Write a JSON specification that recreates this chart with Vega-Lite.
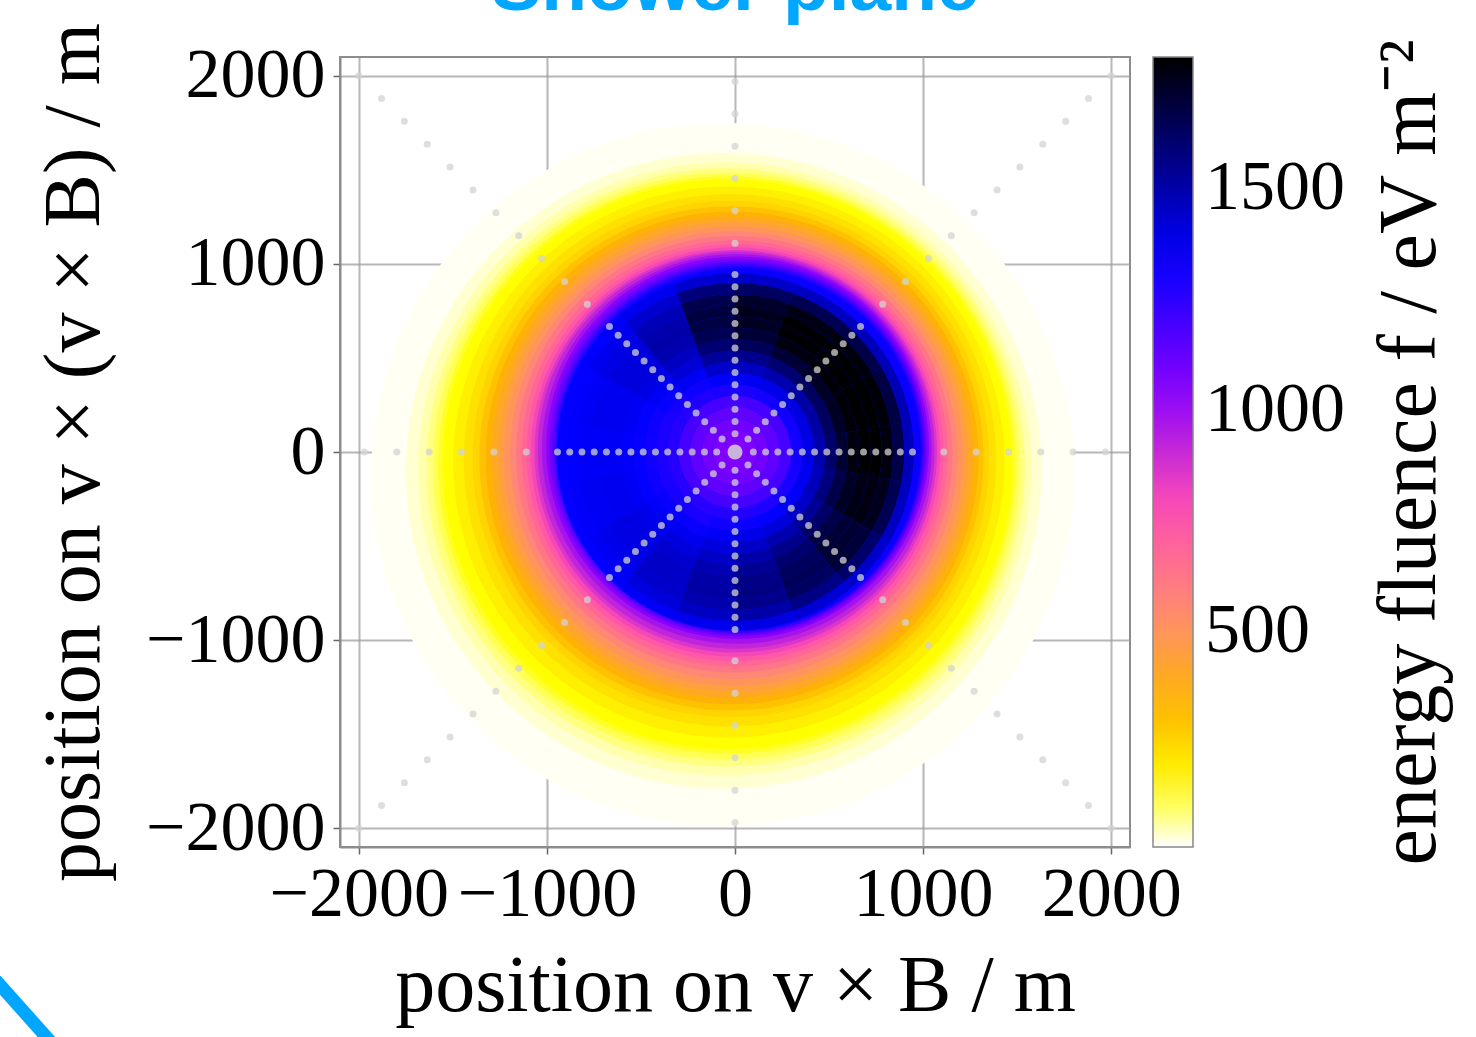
{
  "$schema": "https://vega.github.io/schema/vega-lite/v6.json",
  "width": 790,
  "height": 790,
  "autosize": {"type": "none"},
  "padding": {"left": 340, "top": 57, "right": 346, "bottom": 190},
  "title": {"text": "Shower plane", "font": "Liberation Sans", "fontSize": 75, "fontWeight": "bold", "color": "#00a6ff", "anchor": "middle", "frame": "group", "baseline": "alphabetic", "offset": 12, "dy": 75},
  "config": {
    "font": "Liberation Serif",
    "view": {"stroke": "#8c8c8c", "strokeWidth": 2},
    "axis": {"labelFont": "Liberation Serif", "titleFont": "Liberation Serif", "labelFontSize": 70, "titleFontSize": 80, "labelColor": "#000000", "titleColor": "#000000", "titleFontWeight": "normal", "tickColor": "#666666", "tickSize": 7, "tickWidth": 1.5, "domainColor": "#8c8c8c", "domainWidth": 2, "gridColor": "#999999", "gridOpacity": 0.7, "gridWidth": 2, "labelOverlap": false, "labelFlush": false, "labelBound": false, "labelLimit": 400, "format": "d", "zindex": 1},
    "legend": {"gradientLength": 790, "gradientThickness": 40, "gradientStrokeColor": "#888888", "gradientStrokeWidth": 1.5, "labelFont": "Liberation Serif", "labelFontSize": 70, "labelColor": "#000000", "labelOverlap": false, "labelLimit": 400, "direction": "vertical"}
  },
  "resolve": {"axis": {"x": "independent", "y": "independent"}},
  "layer": [
    {
      "data": {"values": [
        {"x":-65,"y":-120,"R":1870,"f":20},
        {"x":-60,"y":-100,"R":1690,"f":40},
        {"x":-55,"y":-90,"R":1630,"f":60},
        {"x":-50,"y":-82,"R":1590,"f":85},
        {"x":-46,"y":-75,"R":1560,"f":110},
        {"x":-43,"y":-69,"R":1535,"f":135},
        {"x":-40,"y":-64,"R":1515,"f":157},
        {"x":-33,"y":-53,"R":1465,"f":190},
        {"x":-27,"y":-44,"R":1415,"f":220},
        {"x":-22,"y":-37,"R":1373,"f":250},
        {"x":-19,"y":-34,"R":1340,"f":300},
        {"x":-16,"y":-31,"R":1310,"f":350},
        {"x":-13,"y":-28,"R":1280,"f":400},
        {"x":-10,"y":-25,"R":1250,"f":450},
        {"x":-8,"y":-22,"R":1222,"f":500},
        {"x":-6,"y":-17,"R":1190,"f":560},
        {"x":-4,"y":-12,"R":1160,"f":620},
        {"x":-2,"y":-8,"R":1132,"f":680},
        {"x":0,"y":-4,"R":1108,"f":740},
        {"x":2,"y":0,"R":1088,"f":800},
        {"x":4,"y":4,"R":1070,"f":860},
        {"x":6,"y":9,"R":1055,"f":920},
        {"x":10,"y":16,"R":1036,"f":980},
        {"x":14,"y":23,"R":1017,"f":1040},
        {"x":17,"y":23,"R":1003,"f":1100},
        {"x":20,"y":22,"R":992,"f":1160},
        {"x":22,"y":20,"R":982,"f":1220},
        {"x":24,"y":18,"R":972,"f":1280},
        {"x":26,"y":16,"R":962,"f":1330}
      ]},
      "mark": {"type": "point", "shape": "circle", "filled": true, "opacity": 1, "strokeWidth": 0},
      "encoding": {
        "x": {"field": "x", "type": "quantitative", "scale": {"domain": [-2100, 2100], "nice": false, "zero": false}, "axis": {"orient": "bottom", "values": [-2000, -1000, 0, 1000, 2000], "title": "position on v × B / m", "grid": true, "labelPadding": 6, "titlePadding": 18}},
        "y": {"field": "y", "type": "quantitative", "scale": {"domain": [-2100, 2100], "nice": false, "zero": false}, "axis": {"orient": "left", "values": [-2000, -1000, 0, 1000, 2000], "title": "position on v × (v × B) / m", "grid": true, "labelPadding": 8, "titlePadding": 30}},
        "size": {"field": "R", "type": "quantitative", "scale": {"type": "pow", "exponent": 2, "domain": [0, 2100], "range": [0, 624100]}, "legend": null},
        "color": {"field": "f", "type": "quantitative", "scale": {"domain": [14, 157, 240, 340, 450, 540, 780, 1047, 1350, 1795], "range": ["#ffffff", "#ffff00", "#ffd800", "#ffb400", "#ffa040", "#ff8c70", "#ff4db3", "#8700ff", "#0000ff", "#000000"], "interpolate": "rgb", "clamp": true}, "legend": {"type": "gradient", "orient": "none", "legendX": 813, "legendY": 0, "values": [500, 1000, 1500], "format": "d", "title": null, "labelOffset": 12}}
      }
    },
    {
      "data": {"values": [
        {"t0":0,"t1":360,"r0":0,"r1":60,"f":1050},
        {"t0":0,"t1":360,"r0":60,"r1":120,"f":1068},
        {"t0":0,"t1":360,"r0":120,"r1":180,"f":1095},
        {"t0":0,"t1":360,"r0":180,"r1":240,"f":1135},
        {"t0":0,"t1":360,"r0":240,"r1":300,"f":1195},
        {"t0":0,"t1":20,"r0":300,"r1":360,"f":1295},{"t0":0,"t1":20,"r0":360,"r1":420,"f":1370},{"t0":0,"t1":20,"r0":420,"r1":480,"f":1460},{"t0":0,"t1":20,"r0":480,"r1":540,"f":1555},{"t0":0,"t1":20,"r0":540,"r1":600,"f":1640},{"t0":0,"t1":20,"r0":600,"r1":660,"f":1700},{"t0":0,"t1":20,"r0":660,"r1":720,"f":1735},{"t0":0,"t1":20,"r0":720,"r1":780,"f":1745},{"t0":0,"t1":20,"r0":780,"r1":840,"f":1720},{"t0":0,"t1":20,"r0":840,"r1":900,"f":1630},{"t0":0,"t1":20,"r0":900,"r1":950,"f":1445},
        {"t0":20,"t1":40,"r0":300,"r1":360,"f":1305},{"t0":20,"t1":40,"r0":360,"r1":420,"f":1390},{"t0":20,"t1":40,"r0":420,"r1":480,"f":1490},{"t0":20,"t1":40,"r0":480,"r1":540,"f":1600},{"t0":20,"t1":40,"r0":540,"r1":600,"f":1700},{"t0":20,"t1":40,"r0":600,"r1":660,"f":1765},{"t0":20,"t1":40,"r0":660,"r1":720,"f":1790},{"t0":20,"t1":40,"r0":720,"r1":780,"f":1790},{"t0":20,"t1":40,"r0":780,"r1":840,"f":1760},{"t0":20,"t1":40,"r0":840,"r1":900,"f":1650},{"t0":20,"t1":40,"r0":900,"r1":950,"f":1460},
        {"t0":40,"t1":60,"r0":300,"r1":360,"f":1310},{"t0":40,"t1":60,"r0":360,"r1":420,"f":1400},{"t0":40,"t1":60,"r0":420,"r1":480,"f":1510},{"t0":40,"t1":60,"r0":480,"r1":540,"f":1630},{"t0":40,"t1":60,"r0":540,"r1":600,"f":1730},{"t0":40,"t1":60,"r0":600,"r1":660,"f":1785},{"t0":40,"t1":60,"r0":660,"r1":720,"f":1795},{"t0":40,"t1":60,"r0":720,"r1":780,"f":1795},{"t0":40,"t1":60,"r0":780,"r1":840,"f":1775},{"t0":40,"t1":60,"r0":840,"r1":900,"f":1670},{"t0":40,"t1":60,"r0":900,"r1":950,"f":1470},
        {"t0":60,"t1":80,"r0":300,"r1":360,"f":1310},{"t0":60,"t1":80,"r0":360,"r1":420,"f":1400},{"t0":60,"t1":80,"r0":420,"r1":480,"f":1510},{"t0":60,"t1":80,"r0":480,"r1":540,"f":1630},{"t0":60,"t1":80,"r0":540,"r1":600,"f":1730},{"t0":60,"t1":80,"r0":600,"r1":660,"f":1785},{"t0":60,"t1":80,"r0":660,"r1":720,"f":1795},{"t0":60,"t1":80,"r0":720,"r1":780,"f":1795},{"t0":60,"t1":80,"r0":780,"r1":840,"f":1780},{"t0":60,"t1":80,"r0":840,"r1":900,"f":1680},{"t0":60,"t1":80,"r0":900,"r1":950,"f":1480},
        {"t0":80,"t1":100,"r0":300,"r1":360,"f":1305},{"t0":80,"t1":100,"r0":360,"r1":420,"f":1390},{"t0":80,"t1":100,"r0":420,"r1":480,"f":1495},{"t0":80,"t1":100,"r0":480,"r1":540,"f":1610},{"t0":80,"t1":100,"r0":540,"r1":600,"f":1710},{"t0":80,"t1":100,"r0":600,"r1":660,"f":1770},{"t0":80,"t1":100,"r0":660,"r1":720,"f":1790},{"t0":80,"t1":100,"r0":720,"r1":780,"f":1790},{"t0":80,"t1":100,"r0":780,"r1":840,"f":1770},{"t0":80,"t1":100,"r0":840,"r1":900,"f":1670},{"t0":80,"t1":100,"r0":900,"r1":950,"f":1470},
        {"t0":100,"t1":120,"r0":300,"r1":360,"f":1300},{"t0":100,"t1":120,"r0":360,"r1":420,"f":1375},{"t0":100,"t1":120,"r0":420,"r1":480,"f":1470},{"t0":100,"t1":120,"r0":480,"r1":540,"f":1575},{"t0":100,"t1":120,"r0":540,"r1":600,"f":1670},{"t0":100,"t1":120,"r0":600,"r1":660,"f":1730},{"t0":100,"t1":120,"r0":660,"r1":720,"f":1760},{"t0":100,"t1":120,"r0":720,"r1":780,"f":1765},{"t0":100,"t1":120,"r0":780,"r1":840,"f":1745},{"t0":100,"t1":120,"r0":840,"r1":900,"f":1650},{"t0":100,"t1":120,"r0":900,"r1":950,"f":1460},
        {"t0":120,"t1":140,"r0":300,"r1":360,"f":1295},{"t0":120,"t1":140,"r0":360,"r1":420,"f":1360},{"t0":120,"t1":140,"r0":420,"r1":480,"f":1445},{"t0":120,"t1":140,"r0":480,"r1":540,"f":1535},{"t0":120,"t1":140,"r0":540,"r1":600,"f":1615},{"t0":120,"t1":140,"r0":600,"r1":660,"f":1670},{"t0":120,"t1":140,"r0":660,"r1":720,"f":1700},{"t0":120,"t1":140,"r0":720,"r1":780,"f":1710},{"t0":120,"t1":140,"r0":780,"r1":840,"f":1695},{"t0":120,"t1":140,"r0":840,"r1":900,"f":1610},{"t0":120,"t1":140,"r0":900,"r1":950,"f":1440},
        {"t0":140,"t1":160,"r0":300,"r1":360,"f":1285},{"t0":140,"t1":160,"r0":360,"r1":420,"f":1345},{"t0":140,"t1":160,"r0":420,"r1":480,"f":1415},{"t0":140,"t1":160,"r0":480,"r1":540,"f":1490},{"t0":140,"t1":160,"r0":540,"r1":600,"f":1555},{"t0":140,"t1":160,"r0":600,"r1":660,"f":1605},{"t0":140,"t1":160,"r0":660,"r1":720,"f":1635},{"t0":140,"t1":160,"r0":720,"r1":780,"f":1645},{"t0":140,"t1":160,"r0":780,"r1":840,"f":1630},{"t0":140,"t1":160,"r0":840,"r1":900,"f":1565},{"t0":140,"t1":160,"r0":900,"r1":950,"f":1425},
        {"t0":160,"t1":180,"r0":300,"r1":360,"f":1275},{"t0":160,"t1":180,"r0":360,"r1":420,"f":1330},{"t0":160,"t1":180,"r0":420,"r1":480,"f":1390},{"t0":160,"t1":180,"r0":480,"r1":540,"f":1450},{"t0":160,"t1":180,"r0":540,"r1":600,"f":1500},{"t0":160,"t1":180,"r0":600,"r1":660,"f":1540},{"t0":160,"t1":180,"r0":660,"r1":720,"f":1565},{"t0":160,"t1":180,"r0":720,"r1":780,"f":1570},{"t0":160,"t1":180,"r0":780,"r1":840,"f":1555},{"t0":160,"t1":180,"r0":840,"r1":900,"f":1500},{"t0":160,"t1":180,"r0":900,"r1":950,"f":1400},
        {"t0":180,"t1":200,"r0":300,"r1":360,"f":1270},{"t0":180,"t1":200,"r0":360,"r1":420,"f":1315},{"t0":180,"t1":200,"r0":420,"r1":480,"f":1360},{"t0":180,"t1":200,"r0":480,"r1":540,"f":1410},{"t0":180,"t1":200,"r0":540,"r1":600,"f":1450},{"t0":180,"t1":200,"r0":600,"r1":660,"f":1485},{"t0":180,"t1":200,"r0":660,"r1":720,"f":1505},{"t0":180,"t1":200,"r0":720,"r1":780,"f":1510},{"t0":180,"t1":200,"r0":780,"r1":840,"f":1495},{"t0":180,"t1":200,"r0":840,"r1":900,"f":1455},{"t0":180,"t1":200,"r0":900,"r1":950,"f":1380},
        {"t0":200,"t1":220,"r0":300,"r1":360,"f":1260},{"t0":200,"t1":220,"r0":360,"r1":420,"f":1295},{"t0":200,"t1":220,"r0":420,"r1":480,"f":1335},{"t0":200,"t1":220,"r0":480,"r1":540,"f":1375},{"t0":200,"t1":220,"r0":540,"r1":600,"f":1405},{"t0":200,"t1":220,"r0":600,"r1":660,"f":1435},{"t0":200,"t1":220,"r0":660,"r1":720,"f":1450},{"t0":200,"t1":220,"r0":720,"r1":780,"f":1450},{"t0":200,"t1":220,"r0":780,"r1":840,"f":1440},{"t0":200,"t1":220,"r0":840,"r1":900,"f":1410},{"t0":200,"t1":220,"r0":900,"r1":950,"f":1365},
        {"t0":220,"t1":240,"r0":300,"r1":360,"f":1265},{"t0":220,"t1":240,"r0":360,"r1":420,"f":1300},{"t0":220,"t1":240,"r0":420,"r1":480,"f":1333},{"t0":220,"t1":240,"r0":480,"r1":540,"f":1363},{"t0":220,"t1":240,"r0":540,"r1":600,"f":1386},{"t0":220,"t1":240,"r0":600,"r1":660,"f":1399},{"t0":220,"t1":240,"r0":660,"r1":720,"f":1400},{"t0":220,"t1":240,"r0":720,"r1":780,"f":1396},{"t0":220,"t1":240,"r0":780,"r1":840,"f":1386},{"t0":220,"t1":240,"r0":840,"r1":900,"f":1370},{"t0":220,"t1":240,"r0":900,"r1":950,"f":1348},
        {"t0":240,"t1":260,"r0":300,"r1":360,"f":1265},{"t0":240,"t1":260,"r0":360,"r1":420,"f":1291},{"t0":240,"t1":260,"r0":420,"r1":480,"f":1319},{"t0":240,"t1":260,"r0":480,"r1":540,"f":1344},{"t0":240,"t1":260,"r0":540,"r1":600,"f":1364},{"t0":240,"t1":260,"r0":600,"r1":660,"f":1374},{"t0":240,"t1":260,"r0":660,"r1":720,"f":1375},{"t0":240,"t1":260,"r0":720,"r1":780,"f":1373},{"t0":240,"t1":260,"r0":780,"r1":840,"f":1367},{"t0":240,"t1":260,"r0":840,"r1":900,"f":1357},{"t0":240,"t1":260,"r0":900,"r1":950,"f":1343},
        {"t0":260,"t1":280,"r0":300,"r1":360,"f":1265},{"t0":260,"t1":280,"r0":360,"r1":420,"f":1288},{"t0":260,"t1":280,"r0":420,"r1":480,"f":1314},{"t0":260,"t1":280,"r0":480,"r1":540,"f":1337},{"t0":260,"t1":280,"r0":540,"r1":600,"f":1355},{"t0":260,"t1":280,"r0":600,"r1":660,"f":1364},{"t0":260,"t1":280,"r0":660,"r1":720,"f":1365},{"t0":260,"t1":280,"r0":720,"r1":780,"f":1363},{"t0":260,"t1":280,"r0":780,"r1":840,"f":1359},{"t0":260,"t1":280,"r0":840,"r1":900,"f":1351},{"t0":260,"t1":280,"r0":900,"r1":950,"f":1341},
        {"t0":280,"t1":300,"r0":300,"r1":360,"f":1265},{"t0":280,"t1":300,"r0":360,"r1":420,"f":1290},{"t0":280,"t1":300,"r0":420,"r1":480,"f":1320},{"t0":280,"t1":300,"r0":480,"r1":540,"f":1345},{"t0":280,"t1":300,"r0":540,"r1":600,"f":1365},{"t0":280,"t1":300,"r0":600,"r1":660,"f":1375},{"t0":280,"t1":300,"r0":660,"r1":720,"f":1375},{"t0":280,"t1":300,"r0":720,"r1":780,"f":1375},{"t0":280,"t1":300,"r0":780,"r1":840,"f":1365},{"t0":280,"t1":300,"r0":840,"r1":900,"f":1355},{"t0":280,"t1":300,"r0":900,"r1":950,"f":1345},
        {"t0":300,"t1":320,"r0":300,"r1":360,"f":1269},{"t0":300,"t1":320,"r0":360,"r1":420,"f":1302},{"t0":300,"t1":320,"r0":420,"r1":480,"f":1338},{"t0":300,"t1":320,"r0":480,"r1":540,"f":1370},{"t0":300,"t1":320,"r0":540,"r1":600,"f":1395},{"t0":300,"t1":320,"r0":600,"r1":660,"f":1409},{"t0":300,"t1":320,"r0":660,"r1":720,"f":1410},{"t0":300,"t1":320,"r0":720,"r1":780,"f":1405},{"t0":300,"t1":320,"r0":780,"r1":840,"f":1395},{"t0":300,"t1":320,"r0":840,"r1":900,"f":1375},{"t0":300,"t1":320,"r0":900,"r1":950,"f":1350},
        {"t0":320,"t1":340,"r0":300,"r1":360,"f":1280},{"t0":320,"t1":340,"r0":360,"r1":420,"f":1320},{"t0":320,"t1":340,"r0":420,"r1":480,"f":1370},{"t0":320,"t1":340,"r0":480,"r1":540,"f":1420},{"t0":320,"t1":340,"r0":540,"r1":600,"f":1460},{"t0":320,"t1":340,"r0":600,"r1":660,"f":1490},{"t0":320,"t1":340,"r0":660,"r1":720,"f":1500},{"t0":320,"t1":340,"r0":720,"r1":780,"f":1495},{"t0":320,"t1":340,"r0":780,"r1":840,"f":1475},{"t0":320,"t1":340,"r0":840,"r1":900,"f":1435},{"t0":320,"t1":340,"r0":900,"r1":950,"f":1375},
        {"t0":340,"t1":360,"r0":300,"r1":360,"f":1290},{"t0":340,"t1":360,"r0":360,"r1":420,"f":1355},{"t0":340,"t1":360,"r0":420,"r1":480,"f":1440},{"t0":340,"t1":360,"r0":480,"r1":540,"f":1525},{"t0":340,"t1":360,"r0":540,"r1":600,"f":1600},{"t0":340,"t1":360,"r0":600,"r1":660,"f":1650},{"t0":340,"t1":360,"r0":660,"r1":720,"f":1680},{"t0":340,"t1":360,"r0":720,"r1":780,"f":1685},{"t0":340,"t1":360,"r0":780,"r1":840,"f":1660},{"t0":340,"t1":360,"r0":840,"r1":900,"f":1580},{"t0":340,"t1":360,"r0":900,"r1":950,"f":1430}
      ]},
      "mark": {"type": "arc"},
      "encoding": {
        "theta": {"field": "t0", "type": "quantitative", "stack": null, "scale": {"domain": [0, 360], "range": [0, 6.283185307]}},
        "theta2": {"field": "t1"},
        "radius": {"field": "r1", "type": "quantitative", "scale": {"type": "linear", "domain": [0, 2100], "range": [0, 395], "zero": true}},
        "radius2": {"field": "r0"},
        "color": {"field": "f", "type": "quantitative", "scale": {"domain": [14, 157, 240, 340, 450, 540, 780, 1047, 1350, 1795], "range": ["#ffffff", "#ffff00", "#ffd800", "#ffb400", "#ffa040", "#ff8c70", "#ff4db3", "#8700ff", "#0000ff", "#000000"], "interpolate": "rgb", "clamp": true}}
      }
    },
    {
      "data": {"values": [
        {"x":97.5,"y":0},{"x":162.6,"y":0},{"x":227.7,"y":0},{"x":292.8,"y":0},{"x":357.9,"y":0},{"x":423,"y":0},{"x":488.1,"y":0},{"x":553.2,"y":0},{"x":618.3,"y":0},{"x":683.4,"y":0},{"x":748.5,"y":0},{"x":813.6,"y":0},{"x":878.7,"y":0},{"x":943.8,"y":0},{"x":1110,"y":0},{"x":1282,"y":0},{"x":1454,"y":0},{"x":1626,"y":0},{"x":1798,"y":0},{"x":1970,"y":0},
        {"x":-97.5,"y":0},{"x":-162.6,"y":0},{"x":-227.7,"y":0},{"x":-292.8,"y":0},{"x":-357.9,"y":0},{"x":-423,"y":0},{"x":-488.1,"y":0},{"x":-553.2,"y":0},{"x":-618.3,"y":0},{"x":-683.4,"y":0},{"x":-748.5,"y":0},{"x":-813.6,"y":0},{"x":-878.7,"y":0},{"x":-943.8,"y":0},{"x":-1110,"y":0},{"x":-1282,"y":0},{"x":-1454,"y":0},{"x":-1626,"y":0},{"x":-1798,"y":0},{"x":-1970,"y":0},
        {"x":0,"y":97.5},{"x":0,"y":162.6},{"x":0,"y":227.7},{"x":0,"y":292.8},{"x":0,"y":357.9},{"x":0,"y":423},{"x":0,"y":488.1},{"x":0,"y":553.2},{"x":0,"y":618.3},{"x":0,"y":683.4},{"x":0,"y":748.5},{"x":0,"y":813.6},{"x":0,"y":878.7},{"x":0,"y":943.8},{"x":0,"y":1110},{"x":0,"y":1282},{"x":0,"y":1454},{"x":0,"y":1626},{"x":0,"y":1798},{"x":0,"y":1970},
        {"x":0,"y":-97.5},{"x":0,"y":-162.6},{"x":0,"y":-227.7},{"x":0,"y":-292.8},{"x":0,"y":-357.9},{"x":0,"y":-423},{"x":0,"y":-488.1},{"x":0,"y":-553.2},{"x":0,"y":-618.3},{"x":0,"y":-683.4},{"x":0,"y":-748.5},{"x":0,"y":-813.6},{"x":0,"y":-878.7},{"x":0,"y":-943.8},{"x":0,"y":-1110},{"x":0,"y":-1282},{"x":0,"y":-1454},{"x":0,"y":-1626},{"x":0,"y":-1798},{"x":0,"y":-1970},
        {"x":68.9,"y":68.9},{"x":115,"y":115},{"x":161,"y":161},{"x":207,"y":207},{"x":253.1,"y":253.1},{"x":299.1,"y":299.1},{"x":345.1,"y":345.1},{"x":391.2,"y":391.2},{"x":437.2,"y":437.2},{"x":483.2,"y":483.2},{"x":529.3,"y":529.3},{"x":575.3,"y":575.3},{"x":621.3,"y":621.3},{"x":667.4,"y":667.4},{"x":784.9,"y":784.9},{"x":906.5,"y":906.5},{"x":1028.1,"y":1028.1},{"x":1149.8,"y":1149.8},{"x":1271.4,"y":1271.4},{"x":1393,"y":1393},{"x":1514.6,"y":1514.6},{"x":1636.3,"y":1636.3},{"x":1757.9,"y":1757.9},{"x":1879.5,"y":1879.5},{"x":2000,"y":2000},
        {"x":-68.9,"y":68.9},{"x":-115,"y":115},{"x":-161,"y":161},{"x":-207,"y":207},{"x":-253.1,"y":253.1},{"x":-299.1,"y":299.1},{"x":-345.1,"y":345.1},{"x":-391.2,"y":391.2},{"x":-437.2,"y":437.2},{"x":-483.2,"y":483.2},{"x":-529.3,"y":529.3},{"x":-575.3,"y":575.3},{"x":-621.3,"y":621.3},{"x":-667.4,"y":667.4},{"x":-784.9,"y":784.9},{"x":-906.5,"y":906.5},{"x":-1028.1,"y":1028.1},{"x":-1149.8,"y":1149.8},{"x":-1271.4,"y":1271.4},{"x":-1393,"y":1393},{"x":-1514.6,"y":1514.6},{"x":-1636.3,"y":1636.3},{"x":-1757.9,"y":1757.9},{"x":-1879.5,"y":1879.5},{"x":-2000,"y":2000},
        {"x":68.9,"y":-68.9},{"x":115,"y":-115},{"x":161,"y":-161},{"x":207,"y":-207},{"x":253.1,"y":-253.1},{"x":299.1,"y":-299.1},{"x":345.1,"y":-345.1},{"x":391.2,"y":-391.2},{"x":437.2,"y":-437.2},{"x":483.2,"y":-483.2},{"x":529.3,"y":-529.3},{"x":575.3,"y":-575.3},{"x":621.3,"y":-621.3},{"x":667.4,"y":-667.4},{"x":784.9,"y":-784.9},{"x":906.5,"y":-906.5},{"x":1028.1,"y":-1028.1},{"x":1149.8,"y":-1149.8},{"x":1271.4,"y":-1271.4},{"x":1393,"y":-1393},{"x":1514.6,"y":-1514.6},{"x":1636.3,"y":-1636.3},{"x":1757.9,"y":-1757.9},{"x":1879.5,"y":-1879.5},{"x":2000,"y":-2000},
        {"x":-68.9,"y":-68.9},{"x":-115,"y":-115},{"x":-161,"y":-161},{"x":-207,"y":-207},{"x":-253.1,"y":-253.1},{"x":-299.1,"y":-299.1},{"x":-345.1,"y":-345.1},{"x":-391.2,"y":-391.2},{"x":-437.2,"y":-437.2},{"x":-483.2,"y":-483.2},{"x":-529.3,"y":-529.3},{"x":-575.3,"y":-575.3},{"x":-621.3,"y":-621.3},{"x":-667.4,"y":-667.4},{"x":-784.9,"y":-784.9},{"x":-906.5,"y":-906.5},{"x":-1028.1,"y":-1028.1},{"x":-1149.8,"y":-1149.8},{"x":-1271.4,"y":-1271.4},{"x":-1393,"y":-1393},{"x":-1514.6,"y":-1514.6},{"x":-1636.3,"y":-1636.3},{"x":-1757.9,"y":-1757.9},{"x":-1879.5,"y":-1879.5},{"x":-2000,"y":-2000}
      ]},
      "mark": {"type": "point", "shape": "circle", "filled": true, "size": 49, "color": "#d3d3d3", "opacity": 0.75, "strokeWidth": 0},
      "encoding": {
        "x": {"field": "x", "type": "quantitative", "scale": {"domain": [-2100, 2100], "nice": false, "zero": false}, "axis": null},
        "y": {"field": "y", "type": "quantitative", "scale": {"domain": [-2100, 2100], "nice": false, "zero": false}, "axis": {"orient": "right", "title": "energy fluence f / eV m⁻²", "titleFontSize": 82, "labels": false, "ticks": false, "domain": false, "grid": false, "titleAngle": 270, "titleBaseline": "top", "titlePadding": 239}}
      }
    },
    {
      "data": {"values": [{"x": 0, "y": 0}]},
      "mark": {"type": "point", "shape": "circle", "filled": true, "size": 225, "color": "#d3d3d3", "opacity": 0.85, "strokeWidth": 0},
      "encoding": {
        "x": {"field": "x", "type": "quantitative", "scale": {"domain": [-2100, 2100], "nice": false, "zero": false}, "axis": null},
        "y": {"field": "y", "type": "quantitative", "scale": {"domain": [-2100, 2100], "nice": false, "zero": false}, "axis": null}
      }
    },
    {
      "data": {"values": [{"x": -3963, "y": -2771, "x2": -3590, "y2": -3190}]},
      "mark": {"type": "rule", "color": "#00a6ff", "strokeWidth": 13, "strokeCap": "butt"},
      "encoding": {
        "x": {"field": "x", "type": "quantitative", "scale": {"domain": [-2100, 2100], "nice": false, "zero": false}, "axis": null},
        "y": {"field": "y", "type": "quantitative", "scale": {"domain": [-2100, 2100], "nice": false, "zero": false}, "axis": null},
        "x2": {"field": "x2"},
        "y2": {"field": "y2"}
      }
    }
  ]
}
